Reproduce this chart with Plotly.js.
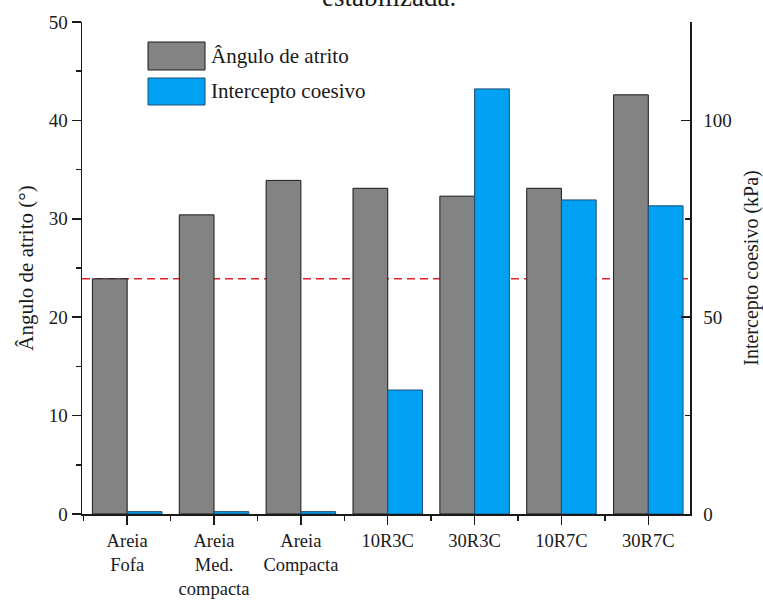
<!DOCTYPE html>
<html>
<head>
<meta charset="utf-8">
<script src="https://cdn.plot.ly/plotly-3.0.1.min.js"></script>
<style>html,body{margin:0;padding:0;background:#fff;}#chart{width:763px;height:601px;}</style>
</head>
<body>
<div id="chart"></div>
<script>
// ---- data ----
const categories = ["Areia<br>Fofa", "Areia<br>Med.<br>compacta", "Areia<br>Compacta", "10R3C", "30R3C", "10R7C", "30R7C"];
const anguloAtrito = [23.9, 30.4, 33.9, 33.1, 32.3, 33.1, 42.6];      // degrees (left axis)
const interceptoCoesivo = [0.6, 0.6, 0.6, 31.5, 108.0, 79.8, 78.3];  // kPa (right axis)
const referenceAngle = [23.9];                                        // red dashed line
const seriesNames = ["Ângulo de atrito", "Intercepto coesivo"];
const titleText = "estabilizada.";

const xPos = categories.map((c, i) => i);
const FONT = "Liberation Serif, Times New Roman, serif";

const traces = [
  {
    type: "bar", name: seriesNames[0], x: xPos, y: anguloAtrito,
    width: 0.40, offset: -0.40,
    marker: {color: "#838383", line: {color: "#1a1a1a", width: 1}},
    xaxis: "x", yaxis: "y", showlegend: false, hoverinfo: "y"
  },
  {
    type: "bar", name: seriesNames[1], x: xPos, y: interceptoCoesivo,
    width: 0.40, offset: 0,
    marker: {color: "#00a0f2", line: {color: "#1d4f78", width: 1}},
    xaxis: "x", yaxis: "y2", showlegend: false, hoverinfo: "y"
  }
];

const L = 82, R = 690, T = 22, B = 514;
const px = v => (v - L) / (R - L);
const py = v => (B - v) / (B - T);

const layout = {
  width: 763, height: 601,
  margin: {l: L, r: 763 - R, t: T, b: 601 - B, pad: 0},
  paper_bgcolor: "#ffffff", plot_bgcolor: "#ffffff",
  font: {family: FONT, color: "#1a1a1a", size: 18},
  showlegend: false,
  xaxis: {
    range: [-0.52, 6.48], tickmode: "array", tickvals: xPos, ticktext: categories,
    showline: true, linecolor: "#1a1a1a", linewidth: 1.5,
    ticks: "outside", ticklen: 9, tickwidth: 1.5, tickcolor: "#1a1a1a",
    showgrid: false, zeroline: false, fixedrange: true,
    tickfont: {family: FONT, size: 18.5, color: "#1a1a1a"},
    minor: {tickmode: "linear", tick0: -0.5, dtick: 1, ticks: "outside", ticklen: 5, tickwidth: 1.5, tickcolor: "#1a1a1a", showgrid: false}
  },
  yaxis: {
    range: [0, 50], tickmode: "linear", tick0: 0, dtick: 10,
    showline: true, linecolor: "#1a1a1a", linewidth: 1.5,
    ticks: "outside", ticklen: 9, tickwidth: 1.5, tickcolor: "#1a1a1a",
    showgrid: false, zeroline: false, fixedrange: true,
    tickfont: {family: FONT, size: 19, color: "#1a1a1a"},
    minor: {tickmode: "linear", tick0: 5, dtick: 10, ticks: "outside", ticklen: 5, tickwidth: 1.5, tickcolor: "#1a1a1a", showgrid: false},
    title: {text: "Ângulo de atrito (°)", font: {family: FONT, size: 21, color: "#1a1a1a"}, standoff: 9}
  },
  yaxis2: {
    overlaying: "y", side: "right", range: [0, 125], tickmode: "linear", tick0: 0, dtick: 50,
    showline: true, linecolor: "#1a1a1a", linewidth: 1.5,
    ticks: "inside", ticklen: 9, tickwidth: 1.5, tickcolor: "#1a1a1a",
    showgrid: false, zeroline: false, fixedrange: true,
    ticklabelstandoff: 8,
    tickfont: {family: FONT, size: 19, color: "#1a1a1a"},
    minor: {tickmode: "linear", tick0: 25, dtick: 50, ticks: "inside", ticklen: 5, tickwidth: 1.5, tickcolor: "#1a1a1a", showgrid: false},
    title: {text: "Intercepto coesivo (kPa)", font: {family: FONT, size: 20, color: "#1a1a1a"}, standoff: 14}
  },
  shapes: [
    {type: "line", layer: "below", xref: "paper", yref: "y", x0: 0, x1: 1, y0: referenceAngle[0], y1: referenceAngle[0],
     line: {color: "#e3202c", width: 1.5, dash: "8px,5px"}},
    {type: "rect", xref: "paper", yref: "paper", x0: px(148), x1: px(205), y0: py(70), y1: py(42),
     fillcolor: "#838383", line: {color: "#1a1a1a", width: 1}},
    {type: "rect", xref: "paper", yref: "paper", x0: px(148), x1: px(205), y0: py(105), y1: py(78),
     fillcolor: "#00a0f2", line: {color: "#1d4f78", width: 1}}
  ],
  annotations: [
    {xref: "paper", yref: "paper", x: px(209), y: py(56), xanchor: "left", yanchor: "middle", showarrow: false,
     text: seriesNames[0], font: {family: FONT, size: 21, color: "#1a1a1a"}},
    {xref: "paper", yref: "paper", x: px(209), y: py(91.5), xanchor: "left", yanchor: "middle", showarrow: false,
     text: seriesNames[1], font: {family: FONT, size: 21, color: "#1a1a1a"}},
    {xref: "paper", yref: "paper", x: px(389), y: py(-3), xanchor: "center", yanchor: "middle", showarrow: false,
     text: titleText, font: {family: FONT, size: 27, color: "#1a1a1a"}}
  ]
};

Plotly.newPlot("chart", traces, layout, {displayModeBar: false, staticPlot: true});
</script>
</body>
</html>
